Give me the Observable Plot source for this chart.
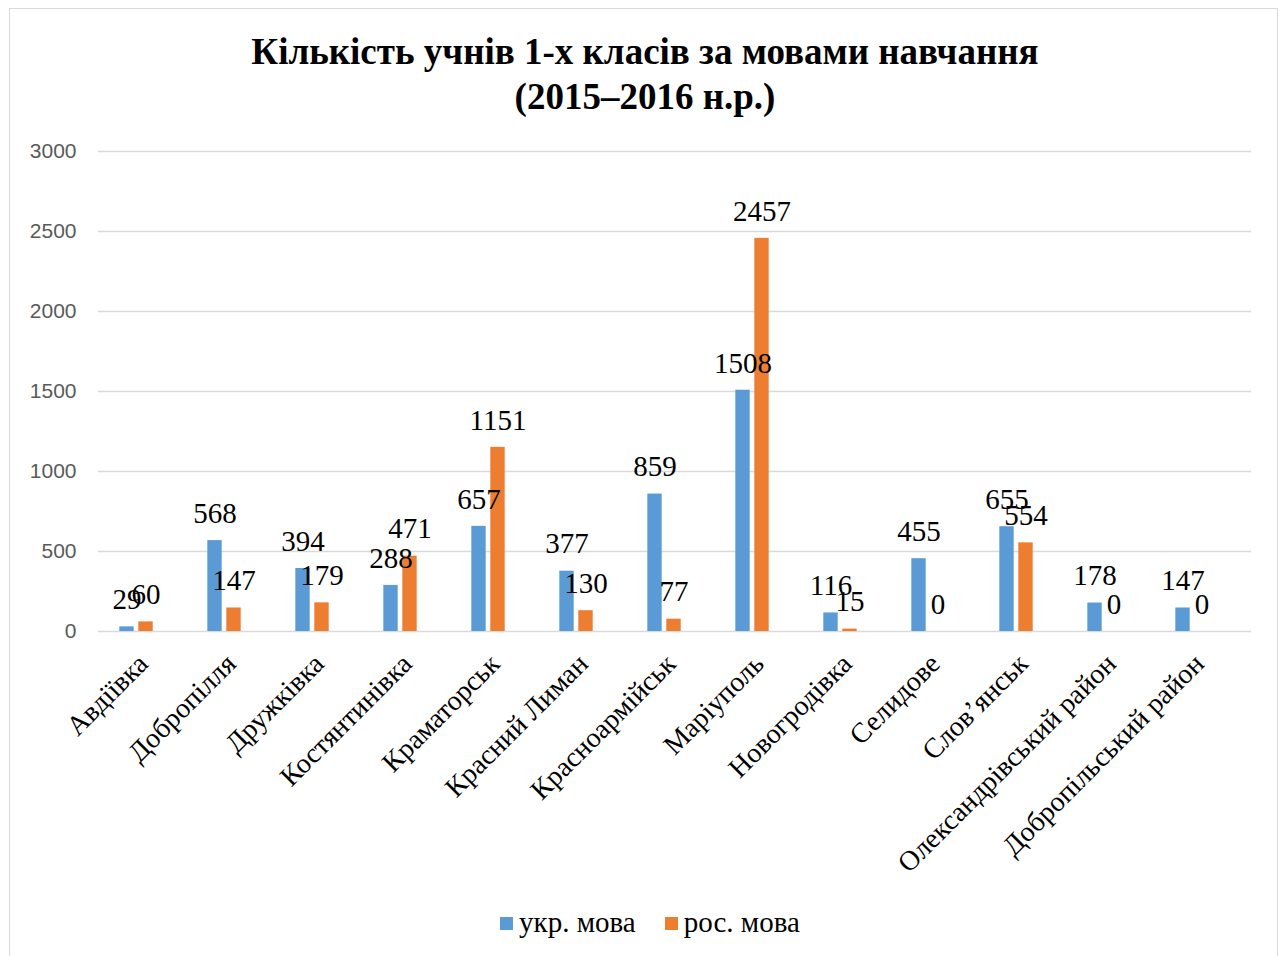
<!DOCTYPE html>
<html>
<head>
<meta charset="utf-8">
<script src="https://cdn.jsdelivr.net/npm/d3@7"></script>
<script src="https://cdn.jsdelivr.net/npm/@observablehq/plot@0.6"></script>
<style>
  html, body { margin: 0; padding: 0; background: #fff; width: 1285px; height: 956px; overflow: hidden; }
  #frame { position: absolute; left: 9px; top: 8px; width: 1269px; height: 1000px; border: 1.5px solid #d9d9d9; box-sizing: border-box; }
  #title { position: absolute; left: 0; top: 29px; width: 1290px; text-align: center; font-family: "Liberation Serif", "Times New Roman", serif; font-weight: bold; font-size: 37px; line-height: 45px; color: #000; }
  #chart { position: absolute; left: 0; top: 0; }
  #legend { position: absolute; left: 0; top: 906px; width: 1300px; display: flex; justify-content: center; align-items: center; font-family: "Liberation Serif", "Times New Roman", serif; font-size: 29px; line-height: 33px; color: #000; }
  .item { display: flex; align-items: center; margin: 0 14.5px; }
  .sw { width: 13px; height: 13px; margin-right: 6px; margin-top: 2px; }
</style>
</head>
<body>
<div id="frame"></div>
<div id="title">Кількість учнів 1-х класів за мовами навчання<br>(2015–2016 н.р.)</div>
<div id="chart"></div>
<div id="legend"></div>
<script>
const categories = ["Авдіївка", "Добропілля", "Дружківка", "Костянтинівка", "Краматорськ", "Красний Лиман", "Красноармійськ", "Маріуполь", "Новогродівка", "Селидове", "Слов’янськ", "Олександрівський район", "Добропільський район"];
const ukr = [29, 568, 394, 288, 657, 377, 859, 1508, 116, 455, 655, 178, 147];
const rus = [60, 147, 179, 471, 1151, 130, 77, 2457, 15, 0, 554, 0, 0];
const seriesNames = ["укр. мова", "рос. мова"];
const seriesColors = ["#5B9BD5", "#ED7D31"];
const yTicks = [0, 500, 1000, 1500, 2000, 2500, 3000];

const rows = [];
categories.forEach((c, i) => {
  rows.push({cat: c, series: seriesNames[0], value: ukr[i]});
  rows.push({cat: c, series: seriesNames[1], value: rus[i]});
});
const ukrRows = rows.filter(d => d.series === seriesNames[0]);
const rusRows = rows.filter(d => d.series === seriesNames[1]);

const W = 1285, H = 895;
const band0 = 87.5, band1 = 1239.5;
const bw = (band1 - band0) / categories.length;
const barW = 15, gap = 4;
const inA = bw / 2 - gap / 2 - barW; // outer inset
const inB = bw / 2 + gap / 2;        // inner inset

const serif = "Liberation Serif, Times New Roman, serif";

const plot = Plot.plot({
  width: W,
  height: H,
  marginTop: 151,
  marginBottom: H - 631,
  marginLeft: 98,
  marginRight: W - 1251,
  style: {fontFamily: serif, background: "transparent"},
  x: {domain: categories, range: [band0, band1], padding: 0, axis: null},
  y: {domain: [0, 3000], axis: null},
  marks: [
    Plot.ruleY(yTicks, {y: d => d, stroke: "#d9d9d9", strokeWidth: 1.5}),
    Plot.text(yTicks, {y: d => d, text: d => String(d), frameAnchor: "left", dx: -22, textAnchor: "end", fill: "#595959", fontSize: 21, fontFamily: "Liberation Sans, Arial, sans-serif"}),
    Plot.barY(ukrRows, {x: "cat", y: "value", fill: seriesColors[0], insetLeft: inA, insetRight: inB}),
    Plot.barY(rusRows, {x: "cat", y: "value", fill: seriesColors[1], insetLeft: inB, insetRight: inA}),
    Plot.text(ukrRows, {x: "cat", y: "value", text: d => String(d.value), dx: -(barW + gap) / 2, dy: -27, fontSize: 29, fill: "#000", fontFamily: serif}),
    Plot.text(rusRows, {x: "cat", y: "value", text: d => String(d.value), dx: (barW + gap) / 2, dy: -27, fontSize: 29, fill: "#000", fontFamily: serif}),
    Plot.text(categories, {x: d => d, frameAnchor: "bottom", text: d => d, rotate: -45, textAnchor: "end", dx: 13, dy: 34, fontSize: 28, fill: "#000", fontFamily: serif})
  ]
});
document.getElementById("chart").appendChild(plot);

const legend = document.getElementById("legend");
seriesNames.forEach((n, i) => {
  const it = document.createElement("div");
  it.className = "item";
  const sw = document.createElement("div");
  sw.className = "sw";
  sw.style.background = seriesColors[i];
  const t = document.createElement("span");
  t.textContent = n;
  it.appendChild(sw); it.appendChild(t);
  legend.appendChild(it);
});
</script>
</body>
</html>
